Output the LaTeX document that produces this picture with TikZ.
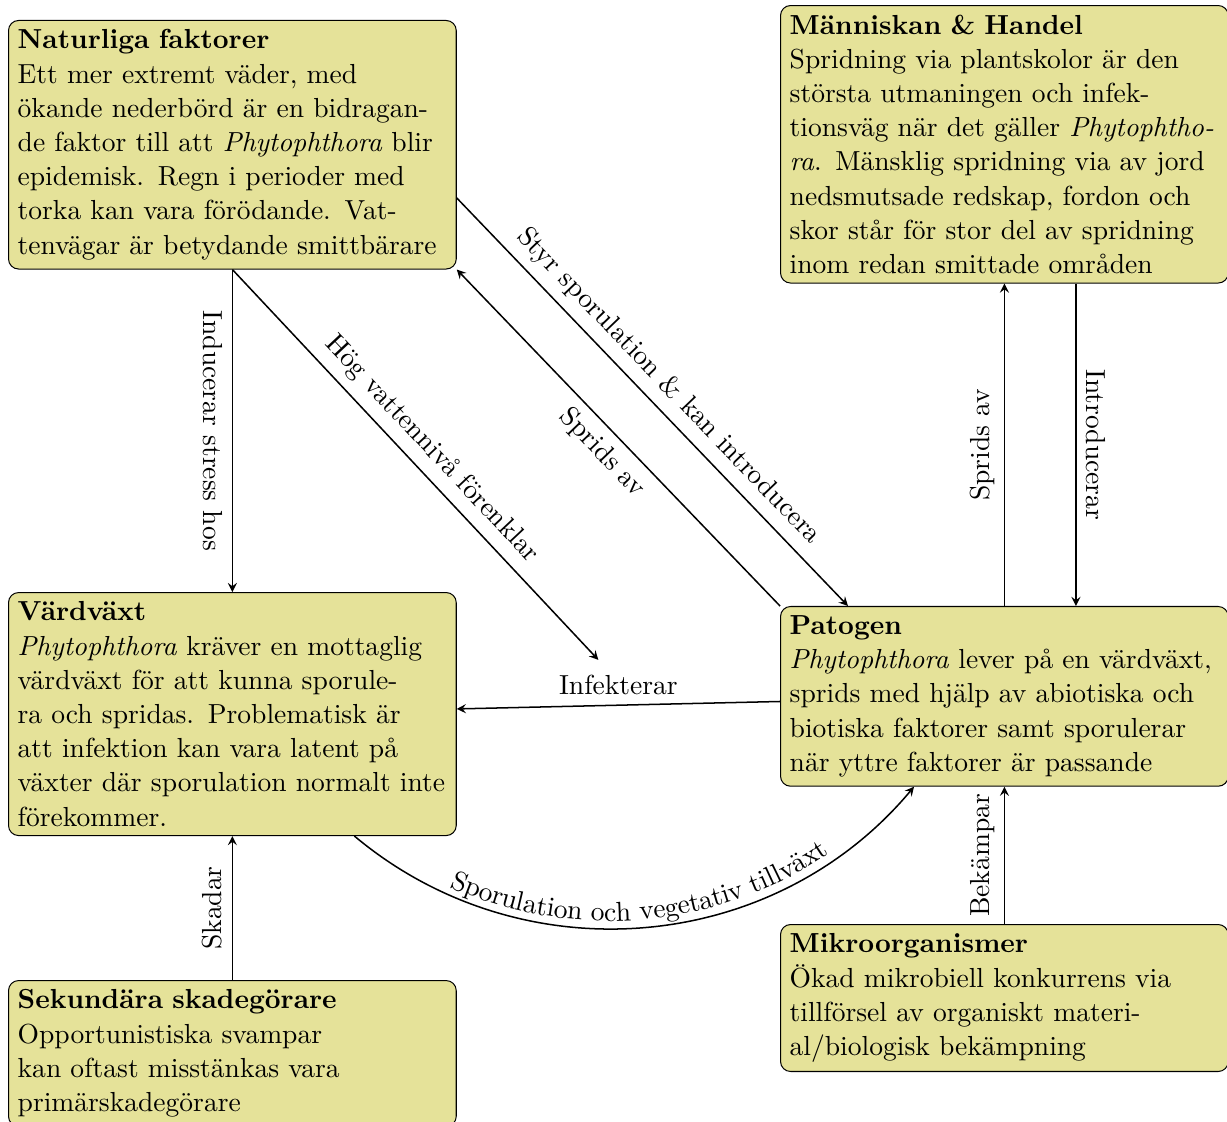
\documentclass[tikz,border=0pt,11pt]{standalone}
\usetikzlibrary{calc,arrows,decorations.text}
\definecolor{boxfill}{RGB}{229,226,153}

\begin{document}
\begin{tikzpicture}[scale=1,
    faktor/.style={draw, fill=boxfill, rounded corners, text width=6cm, align=left, anchor=north west},
    pil/.style={->, >=stealth, semithick}]
    \useasboundingbox (0,0) rectangle (17.146,-15.665);
    \node[faktor] (natur) at (0.112,-0.279) {\textbf{Naturliga faktorer}\\
        Ett mer extremt väder, med\\
        ökande nederbörd är en bidragan-\\
        de faktor till att \emph{Phytophthora} blir\\
        epidemisk. Regn i perioder med\\
        torka kan vara förödande. Vat-\\
        tenvägar är betydande smittbärare};
    \node[faktor] (manniska) at (10.900,-0.070) {\textbf{Människan \& Handel}\\
        Spridning via plantskolor är den\\
        största utmaningen och infek-\\
        tionsväg när det gäller \emph{Phytophtho-}\\
        \emph{ra}. Mänsklig spridning via av jord\\
        nedsmutsade redskap, fordon och\\
        skor står för stor del av spridning\\
        inom redan smittade områden};
    \node[faktor] (vard) at (0.112,-8.273) {\textbf{Värdväxt}\\
        \emph{Phytophthora} kräver en mottaglig\\
        värdväxt för att kunna sporule-\\
        ra och spridas. Problematisk är\\
        att infektion kan vara latent på\\
        växter där sporulation normalt inte\\
        förekommer.};
    \node[faktor] (patogen) at (10.900,-8.468) {\textbf{Patogen}\\
        \emph{Phytophthora} lever på en värdväxt,\\
        sprids med hjälp av abiotiska och\\
        biotiska faktorer samt sporulerar\\
        när yttre faktorer är passande};
    \node[faktor] (sekund) at (0.112,-13.695) {\textbf{Sekundära skadegörare}\\
        Opportunistiska svampar\\
        kan oftast misstänkas vara\\
        primärskadegörare};
    \node[faktor] (mikro) at (10.900,-12.912) {\textbf{Mikroorganismer}\\
        Ökad mikrobiell konkurrens via\\
        tillförsel av organiskt materi-\\
        al/biologisk bekämpning};

    \draw[pil] (natur.south) -- (vard.north) node[midway, sloped, below] {Inducerar stress hos};
    \draw[pil] ($(natur.south east)+(0,1)$) -- ($(patogen.north west)+(0.95,0)$) node[midway, sloped, above] {Styr sporulation \& kan introducera};
    \draw[pil] (patogen.north west) -- (natur.south east) node[midway, sloped, below] {Sprids av};
    \draw[pil] (patogen) -- (vard) node[midway, above] (infekt) {Infekterar};
    \coordinate (hogend) at ($(infekt.north)+(-0.28,0.08)$);
    \draw[pil] (natur.south) -- (hogend) node[midway, sloped, above] {Hög vattennivå förenklar};
    \draw[pil] (patogen.north) -- (manniska.south) node[midway, sloped, above] {Sprids av};
    \draw[pil] ([xshift=1cm]manniska.south) -- ([xshift=1cm]patogen.north) node[midway, sloped, above] {Introducerar};
    \draw[pil] (mikro.north) -- (patogen.south) node[midway, sloped, above] {Bekämpar};
    \draw[pil] (sekund.north) -- (vard.south) node[midway, sloped, above] {Skadar};
    \draw[pil, postaction={decorate, decoration={text along path, text align=center, raise=3pt,
        text={Sporulation och vegetativ tillväxt}}}] (vard.-45) to[bend right=45] (patogen.-135);
\end{tikzpicture}
\end{document}
